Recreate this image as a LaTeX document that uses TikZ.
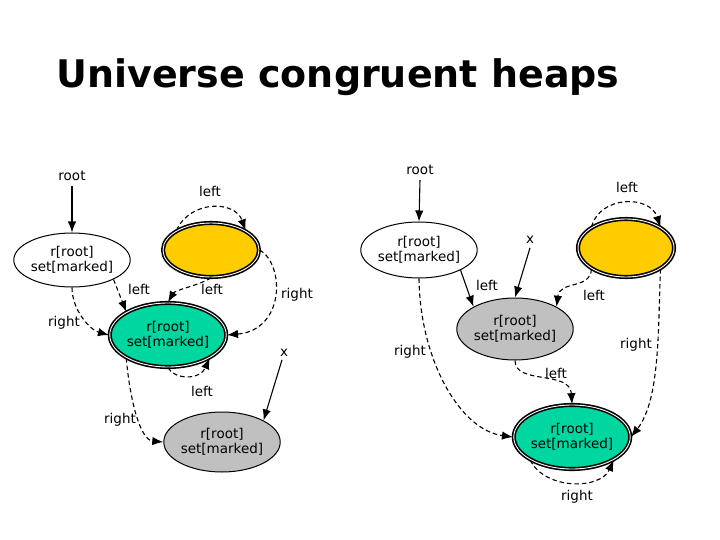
\documentclass[tikz,border=0pt]{standalone}
\usepackage{fontspec}
\setmainfont{DejaVu Sans}
\usetikzlibrary{arrows.meta,shapes.geometric}
\begin{document}
\begin{tikzpicture}[x=1pt,y=-1pt,
  lbl/.style={font=\fontsize{13.5}{15}\selectfont,inner sep=0pt},
  el/.style={ellipse,draw,line width=1pt,minimum width=2*#1,align=center,font=\fontsize{13.5}{15}\selectfont,inner sep=0pt},
  dbl/.style={draw=black,line width=1.6pt,double=white,double distance=0.9pt},
  ed/.style={-{Latex[length=11pt,width=8.5pt]},line width=1.1pt},
  dd/.style={ed,dashed,dash pattern=on 4.5pt off 3pt}]
\useasboundingbox (0,0) rectangle (720,540);
\node[font=\bfseries\fontsize{38}{42}\selectfont] (title) at (338,77) {Universe congruent heaps};
% left diagram
\node[el=54pt,minimum height=54pt,fill=white] (A) at (72,260) {r[root]\\set[marked]};
\node[el=48pt,minimum height=54pt,fill={rgb,255:red,255;green,204;blue,0},dbl] (Y1) at (211,250) {};
\node[el=55pt,minimum height=64pt,fill={rgb,255:red,0;green,214;blue,160},dbl] (G1) at (168,335) {r[root]\\set[marked]};
\node[el=52pt,minimum height=60pt,fill={rgb,255:red,192;green,192;blue,192}] (H1) at (222,442) {r[root]\\set[marked]};
\node[lbl] (r1) at (72,176) {root};
\node[lbl] (x1) at (284,353) {x};
\draw[ed] (r1.south) ++(0,5) coordinate (r1s) (r1s) -- (A.north);
\draw[ed] (x1.south) ++(-2,3) coordinate (x1s) (x1s) -- (H1.north east);
\draw[dd] (A.south east) -- (G1.north west);
\draw[dd] (A.south) .. controls (72,310) and (90,330) .. (G1.west);
\draw[dd] (Y1.north west) .. controls (190,200) and (235,200) .. (Y1.north east);
\draw[dd] (Y1.south) .. controls (200,285) and (175,290) .. (G1.north);
\draw[dd] (Y1.east) .. controls (285,265) and (285,330) .. (G1.east);
\draw[dd] (G1.south) .. controls (175,380) and (200,380) .. (G1.south east);
\draw[dd] (G1.south west) .. controls (130,400) and (140,440) .. (H1.west);
\node[lbl] (l1) at (210,191) {left};
\node[lbl] (l2) at (139,289) {left};
\node[lbl] (l3) at (212,289) {left};
\node[lbl] (l4) at (297,295) {right};
\node[lbl] (l5) at (64,323) {right};
\node[lbl] (l6) at (202,391) {left};
\node[lbl] (l7) at (120,420) {right};
% right diagram
\node[el=54pt,minimum height=56pt,fill=white] (B) at (419,250) {r[root]\\set[marked]};
\node[el=48pt,minimum height=58pt,fill={rgb,255:red,255;green,204;blue,0},dbl] (Y2) at (626,248) {};
\node[el=54pt,minimum height=62pt,fill={rgb,255:red,192;green,192;blue,192}] (H2) at (515,329) {r[root]\\set[marked]};
\node[el=55pt,minimum height=64pt,fill={rgb,255:red,0;green,214;blue,160},dbl] (G2) at (572,437) {r[root]\\set[marked]};
\node[lbl] (r2) at (420,170) {root};
\node[lbl] (x2) at (530,240) {x};
\draw[ed] (r2.south) ++(0,5) coordinate (r2s) (r2s) -- (B.north);
\draw[ed] (x2.south) ++(0,4) coordinate (x2s) (x2s) -- (H2.north);
\draw[ed] (B.south east) -- (H2.north west);
\draw[dd] (B.south) .. controls (420,360) and (460,430) .. (G2.west);
\draw[dd] (Y2.north west) .. controls (600,195) and (650,195) .. (Y2.north east);
\draw[dd] (Y2.south west) .. controls (590,290) and (560,280) .. (H2.north east);
\draw[dd] (Y2.south east) .. controls (658,330) and (660,400) .. (G2.east);
\draw[dd] (H2.south) .. controls (515,385) and (570,370) .. (G2.north);
\draw[dd] (G2.south west) .. controls (545,490) and (600,490) .. (G2.south east);
\node[lbl] (m1) at (627,187) {left};
\node[lbl] (m2) at (487,285) {left};
\node[lbl] (m3) at (594,295) {left};
\node[lbl] (m4) at (410,352) {right};
\node[lbl] (m5) at (636,345) {right};
\node[lbl] (m6) at (556,373) {left};
\node[lbl] (m7) at (577,497) {right};
\end{tikzpicture}
\end{document}
